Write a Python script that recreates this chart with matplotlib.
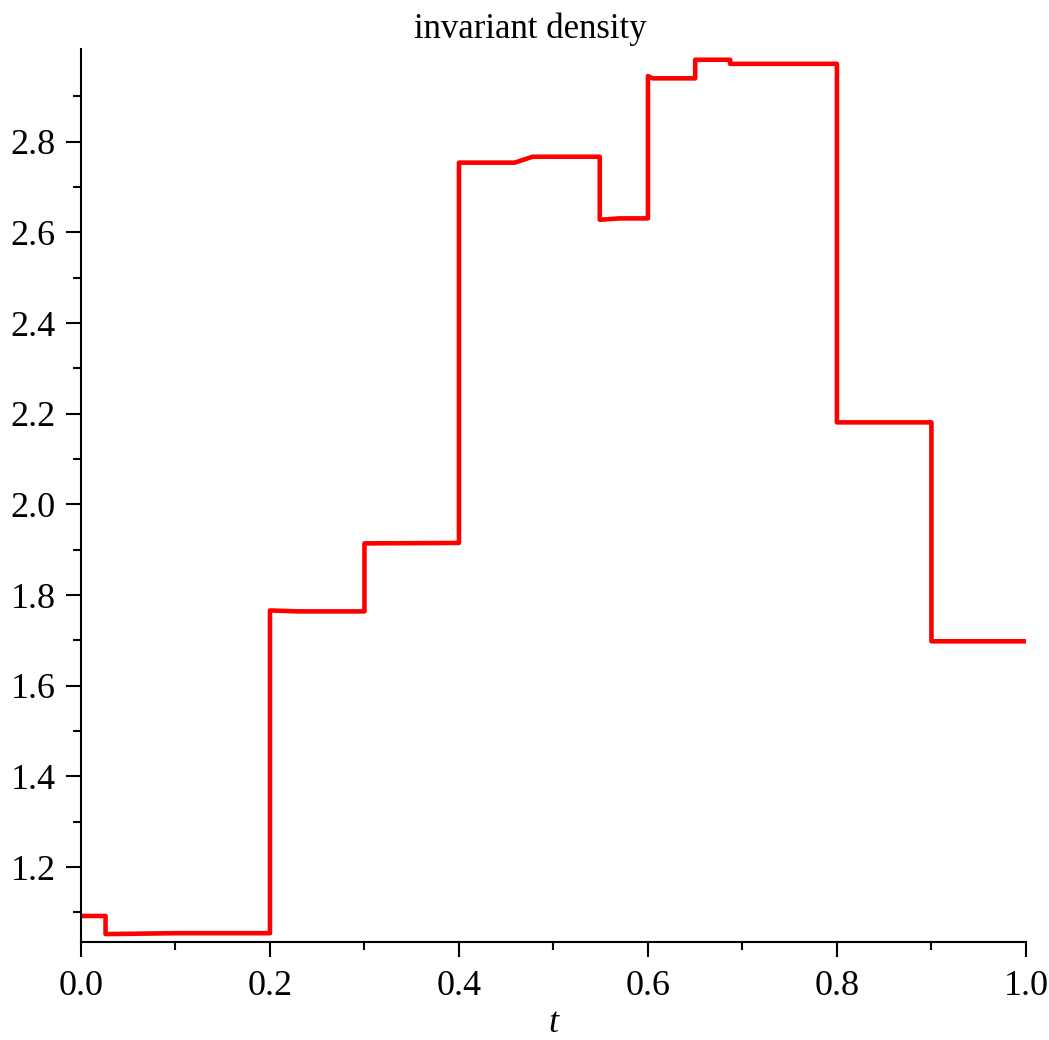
import matplotlib
matplotlib.use("Agg")
import matplotlib.pyplot as plt
from matplotlib.ticker import MultipleLocator, FixedLocator, FormatStrFormatter

t = [0.0, 0.026, 0.026, 0.1, 0.2, 0.2, 0.23, 0.3, 0.3, 0.4, 0.4, 0.459, 0.478,
     0.549, 0.549, 0.57, 0.6, 0.6, 0.605, 0.65, 0.65, 0.687, 0.687, 0.8, 0.8,
     0.9, 0.9, 1.0]
density = [1.092, 1.092, 1.052, 1.054, 1.054, 1.766, 1.764, 1.764, 1.914, 1.915,
           2.754, 2.754, 2.767, 2.767, 2.628, 2.631, 2.631, 2.945, 2.940, 2.940,
           2.981, 2.981, 2.972, 2.972, 2.181, 2.181, 1.698, 1.698]

yticks = [1.2, 1.4, 1.6, 1.8, 2.0, 2.2, 2.4, 2.6, 2.8]
yminor = [1.1, 1.3, 1.5, 1.7, 1.9, 2.1, 2.3, 2.5, 2.7, 2.9]

title = "invariant density"
xlabel = "t"

plt.rcParams['font.family'] = ['Liberation Serif', 'DejaVu Serif']

fig = plt.figure(figsize=(10.49, 10.40), dpi=100)
ax = fig.add_axes([0.0772, 0.0942, 0.9008, 0.8588])
ax.plot(t, density, color='#ff0000', lw=3.3, solid_joinstyle='round',
        solid_capstyle='butt')

ax.set_xlim(0, 1.0)
ax.set_ylim(1.0345, 3.005)
ax.xaxis.set_major_locator(MultipleLocator(0.2))
ax.xaxis.set_minor_locator(MultipleLocator(0.1))
ax.yaxis.set_major_locator(FixedLocator(yticks))
ax.yaxis.set_minor_locator(FixedLocator(yminor))
ax.xaxis.set_major_formatter(FormatStrFormatter('%.1f'))
ax.yaxis.set_major_formatter(FormatStrFormatter('%.1f'))

for s in ['top', 'right']:
    ax.spines[s].set_visible(False)
for s in ['left', 'bottom']:
    ax.spines[s].set_linewidth(1.5)

ax.tick_params(which='major', length=11, width=1.5, labelsize=26, direction='out')
ax.tick_params(axis='x', which='major', pad=9)
ax.tick_params(axis='y', which='major', pad=7)
ax.tick_params(which='minor', length=6, width=1.5, direction='out')

ax.set_title(title, fontsize=25, pad=8, x=0.475)
ax.set_xlabel(xlabel, fontsize=26, style='italic', labelpad=3)

fig.savefig("out.png", dpi=100)
